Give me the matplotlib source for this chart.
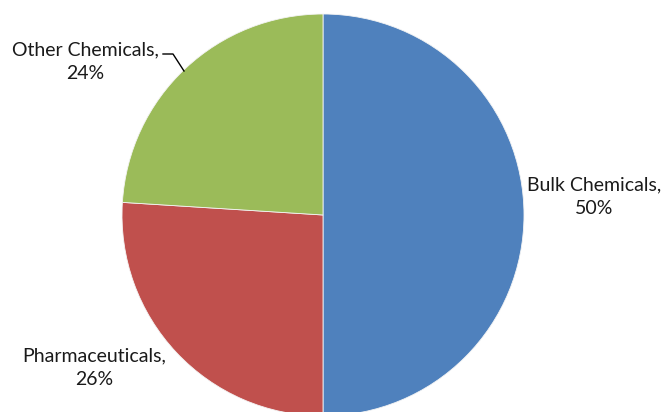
import matplotlib.pyplot as plt

# slice data, clockwise from 12 o'clock
labels = ["Bulk Chemicals", "Pharmaceuticals", "Other Chemicals"]
shares = [50, 26, 24]
colors = ["#4F81BD", "#C0504D", "#9BBB59"]

W, H = 661, 412
fig = plt.figure(figsize=(W / 100, H / 100), dpi=100)
ax = fig.add_axes([0, 0, 1, 1])

cx, cy, r = 323, H - 215, 201
ax.pie(shares, colors=colors, startangle=90, counterclock=False,
       center=(cx, cy), radius=r, frame=True,
       wedgeprops=dict(edgecolor="#f4f4f4", linewidth=0.6))
ax.set_xlim(0, W)
ax.set_ylim(0, H)
ax.set_aspect("equal")
ax.axis("off")

font = dict(family=["Lato", "DejaVu Sans"], fontsize=14, color="#1a1a1a",
            ha="center", va="center", linespacing=1.45)
ax.text(594, H - 197, "%s,\n%d%%" % (labels[0], shares[0]), **font)
ax.text(94, H - 368, "%s,\n%d%%" % (labels[1], shares[1]), **font)
ax.text(85, H - 62, "%s,\n%d%%" % (labels[2], shares[2]), **font)

# leader line for the small top-left label
ax.plot([163, 173, 184], [H - 54, H - 54, H - 71], color="black", lw=1)

fig.savefig("out.png", dpi=100)
